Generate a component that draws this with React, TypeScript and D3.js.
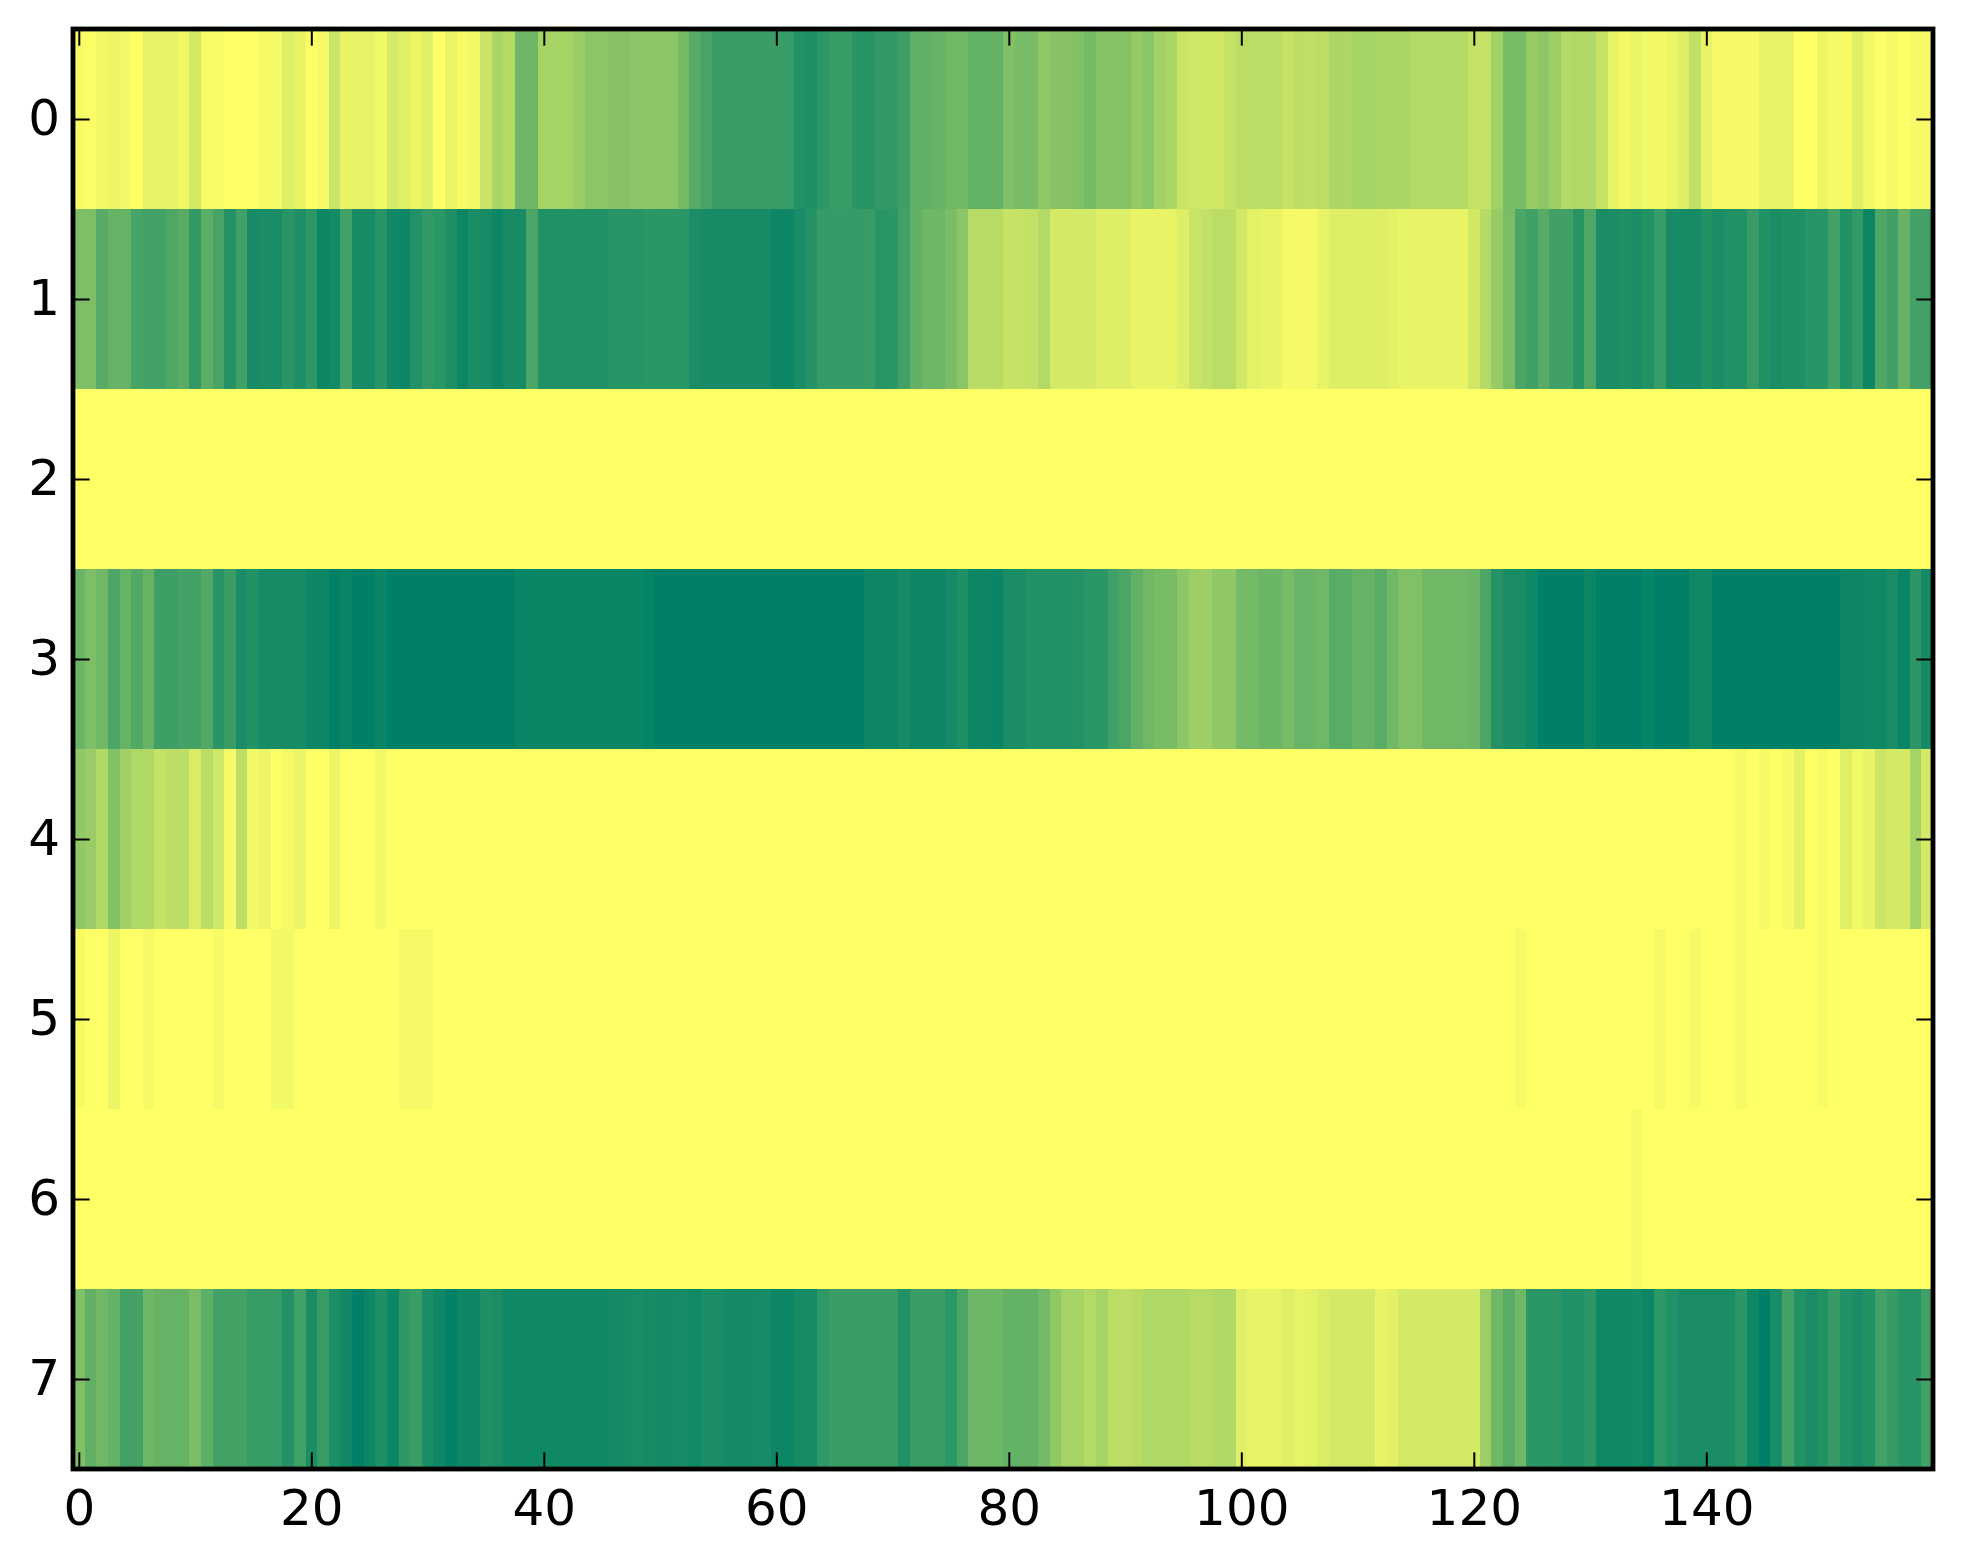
import * as React from "react";
import { useEffect, useRef } from "react";
import { axisBottom, axisLeft, axisRight, axisTop, scaleLinear, select } from "d3";

// heat values, 0 = pale yellow end of the map, 100 = dark green end
const row0 = [
  3, 1, 5, 8, 5, 0, 9, 9, 9, 6,
  17, 3, 3, 0, 0, 0, 4, 4, 13, 9,
  1, 4, 21, 9, 9, 9, 5, 16, 12, 8,
  12, 0, 8, 3, 5, 21, 33, 29, 57, 57,
  35, 35, 35, 40, 45, 45, 47, 47, 45, 45,
  46, 46, 54, 66, 72, 77, 77, 77, 77, 77,
  77, 78, 87, 88, 83, 78, 78, 84, 84, 80,
  80, 76, 62, 62, 60, 56, 56, 61, 61, 61,
  50, 53, 53, 44, 47, 47, 50, 54, 48, 48,
  48, 42, 46, 36, 33, 21, 19, 18, 18, 23,
  27, 27, 27, 27, 22, 26, 25, 27, 33, 32,
  35, 35, 33, 33, 33, 30, 30, 30, 30, 30,
  23, 23, 37, 53, 53, 41, 45, 38, 30, 31,
  31, 22, 9, 5, 8, 5, 5, 8, 13, 25,
  9, 4, 4, 4, 4, 9, 9, 9, 0, 0,
  8, 4, 4, 12, 5, 1, 4, 1, 4, 4,
];
const row1 = [
  51, 51, 66, 60, 60, 72, 74, 74, 69, 65,
  80, 64, 72, 86, 75, 91, 90, 90, 84, 88,
  82, 95, 92, 74, 91, 91, 84, 93, 95, 87,
  80, 83, 88, 95, 90, 91, 95, 91, 91, 71,
  87, 87, 87, 87, 87, 87, 84, 84, 84, 83,
  83, 83, 83, 90, 91, 91, 91, 91, 91, 91,
  95, 95, 90, 85, 79, 79, 79, 79, 78, 84,
  83, 75, 62, 57, 57, 52, 46, 28, 28, 28,
  22, 22, 24, 30, 17, 17, 17, 17, 13, 13,
  13, 9, 9, 9, 9, 13, 21, 24, 27, 27,
  18, 11, 9, 9, 4, 4, 4, 9, 13, 13,
  13, 13, 13, 11, 9, 9, 9, 9, 9, 9,
  18, 29, 41, 52, 71, 75, 66, 75, 75, 84,
  69, 90, 90, 88, 90, 87, 78, 91, 91, 91,
  87, 90, 87, 87, 79, 87, 90, 88, 88, 84,
  84, 74, 87, 80, 95, 69, 75, 60, 74, 74,
];
const row2 = [
  0, 0, 0, 0, 0, 0, 0, 0, 0, 0, 0, 0, 0, 0, 0, 0, 0, 0, 0, 0,
  0, 0, 0, 0, 0, 0, 0, 0, 0, 0, 0, 0, 0, 0, 0, 0, 0, 0, 0, 0,
  0, 0, 0, 0, 0, 0, 0, 0, 0, 0, 0, 0, 0, 0, 0, 0, 0, 0, 0, 0,
  0, 0, 0, 0, 0, 0, 0, 0, 0, 0, 0, 0, 0, 0, 0, 0, 0, 0, 0, 0,
  0, 0, 0, 0, 0, 0, 0, 0, 0, 0, 0, 0, 0, 0, 0, 0, 0, 0, 0, 0,
  0, 0, 0, 0, 0, 0, 0, 0, 0, 0, 0, 0, 0, 0, 0, 0, 0, 0, 0, 0,
  0, 0, 0, 0, 0, 0, 0, 0, 0, 0, 0, 0, 0, 0, 0, 0, 0, 0, 0, 0,
  0, 0, 0, 0, 0, 0, 0, 0, 0, 0, 0, 0, 0, 0, 0, 0, 0, 0, 0, 0,
];
const row3 = [
  58, 51, 56, 70, 60, 68, 60, 76, 76, 73,
  73, 68, 84, 77, 90, 87, 91, 91, 91, 91,
  95, 95, 100, 97, 100, 100, 96, 100, 100, 100,
  100, 100, 100, 100, 100, 100, 100, 100, 96, 96,
  96, 96, 96, 96, 96, 96, 96, 96, 96, 98,
  100, 100, 100, 100, 100, 100, 100, 100, 100, 100,
  100, 100, 100, 100, 100, 100, 100, 100, 95, 95,
  95, 91, 95, 95, 95, 92, 88, 95, 95, 96,
  90, 89, 87, 87, 87, 87, 86, 83, 83, 75,
  71, 62, 56, 53, 53, 45, 39, 38, 43, 43,
  54, 55, 58, 58, 53, 59, 58, 56, 65, 65,
  60, 60, 65, 56, 50, 50, 56, 56, 56, 56,
  58, 70, 86, 90, 90, 94, 100, 100, 100, 100,
  95, 100, 100, 100, 100, 97, 100, 100, 100, 94,
  94, 100, 100, 100, 100, 100, 100, 100, 100, 100,
  100, 100, 95, 95, 94, 94, 90, 97, 83, 92,
];
const row4 = [
  43, 40, 31, 49, 37, 31, 31, 23, 26, 26,
  15, 27, 19, 4, 26, 5, 8, 0, 4, 8,
  0, 0, 8, 0, 0, 0, 5, 0, 0, 0,
  0, 0, 0, 0, 0, 0, 0, 0, 0, 0,
  0, 0, 0, 0, 0, 0, 0, 0, 0, 0,
  0, 0, 0, 0, 0, 0, 0, 0, 0, 0,
  0, 0, 0, 0, 0, 0, 0, 0, 0, 0,
  0, 0, 0, 0, 0, 0, 0, 0, 0, 0,
  0, 0, 0, 0, 0, 0, 0, 0, 0, 0,
  0, 0, 0, 0, 0, 0, 0, 0, 0, 0,
  0, 0, 0, 0, 0, 0, 0, 0, 0, 0,
  0, 0, 0, 0, 0, 0, 0, 0, 0, 0,
  0, 0, 0, 0, 0, 0, 0, 0, 0, 0,
  0, 0, 0, 0, 0, 0, 0, 0, 0, 0,
  0, 0, 0, 4, 0, 4, 0, 4, 11, 0,
  3, 0, 12, 5, 9, 20, 17, 17, 35, 17,
];
const row5 = [
  3, 0, 0, 8, 0, 0, 4, 0, 0, 0,
  0, 0, 4, 0, 0, 0, 0, 5, 5, 0,
  0, 0, 0, 0, 0, 0, 0, 0, 4, 4,
  4, 0, 0, 0, 0, 0, 0, 0, 0, 0,
  0, 0, 0, 0, 0, 0, 0, 0, 0, 0,
  0, 0, 0, 0, 0, 0, 0, 0, 0, 0,
  0, 0, 0, 0, 0, 0, 0, 0, 0, 0,
  0, 0, 0, 0, 0, 0, 0, 0, 0, 0,
  0, 0, 0, 0, 0, 0, 0, 0, 0, 0,
  0, 0, 0, 0, 0, 0, 0, 0, 0, 0,
  0, 0, 0, 0, 0, 0, 0, 0, 0, 0,
  0, 0, 0, 0, 0, 0, 0, 0, 0, 0,
  0, 0, 0, 0, 4, 0, 0, 0, 0, 0,
  0, 0, 0, 0, 0, 0, 4, 0, 0, 4,
  0, 0, 0, 4, 0, 0, 0, 0, 0, 0,
  3, 0, 0, 0, 0, 0, 0, 0, 0, 0,
];
const row6 = [
  0, 0, 0, 0, 0, 0, 0, 0, 0, 0, 0, 0, 0, 0, 0, 0, 0, 0, 0, 0,
  0, 0, 0, 0, 0, 0, 0, 0, 0, 0, 0, 0, 0, 0, 0, 0, 0, 0, 0, 0,
  0, 0, 0, 0, 0, 0, 0, 0, 0, 0, 0, 0, 0, 0, 0, 0, 0, 0, 0, 0,
  0, 0, 0, 0, 0, 0, 0, 0, 0, 0, 0, 0, 0, 0, 0, 0, 0, 0, 0, 0,
  0, 0, 0, 0, 0, 0, 0, 0, 0, 0, 0, 0, 0, 0, 0, 0, 0, 0, 0, 0,
  0, 0, 0, 0, 0, 0, 0, 0, 0, 0, 0, 0, 0, 0, 0, 0, 0, 0, 0, 0,
  0, 0, 0, 0, 0, 0, 0, 0, 0, 0, 0, 0, 0, 0, 4, 0, 0, 0, 0, 0,
  0, 0, 0, 0, 0, 0, 0, 0, 0, 0, 0, 0, 0, 0, 0, 0, 0, 0, 0, 0,
];
const row7 = [
  50, 62, 56, 61, 73, 73, 57, 60, 60, 60,
  52, 63, 73, 73, 73, 78, 78, 78, 86, 74,
  90, 78, 89, 93, 100, 95, 88, 95, 81, 77,
  89, 94, 99, 95, 95, 88, 90, 94, 94, 94,
  94, 94, 94, 94, 94, 94, 92, 92, 90, 91,
  92, 92, 91, 93, 89, 89, 92, 92, 92, 91,
  95, 95, 91, 91, 81, 77, 77, 77, 77, 77,
  77, 87, 77, 77, 77, 83, 71, 57, 57, 57,
  61, 61, 61, 54, 43, 35, 35, 30, 35, 27,
  26, 28, 31, 31, 31, 31, 28, 28, 31, 31,
  12, 9, 9, 9, 13, 9, 11, 14, 17, 17,
  17, 17, 9, 11, 17, 17, 17, 17, 17, 17,
  17, 39, 56, 65, 56, 83, 83, 83, 87, 87,
  83, 94, 94, 94, 92, 95, 82, 87, 90, 90,
  90, 90, 90, 83, 94, 100, 90, 73, 87, 90,
  87, 79, 87, 90, 87, 74, 79, 84, 84, 74,
];

const rows = [row0, row1, row2, row3, row4, row5, row6, row7];
const xTicks = [0, 20, 40, 60, 80, 100, 120, 140];
const yTicks = [0, 1, 2, 3, 4, 5, 6, 7];

const width = 1963;
const height = 1564;
const margin = { top: 29, right: 30, bottom: 95, left: 73 };
const tickLength = 16.67;

function Axes(props) {
  const { scaleX, scaleY } = props;
  const ref = useRef<SVGGElement>(null);

  useEffect(() => {
    if (!ref.current) return;
    const root = select(ref.current);
    root.selectAll("*").remove();

    const [left, right] = scaleX.range();
    const [top, bottom] = scaleY.range();

    root
      .append("g")
      .attr("transform", `translate(0, ${bottom})`)
      .call(
        axisBottom(scaleX).tickValues(xTicks).tickSizeInner(-tickLength).tickSizeOuter(0).tickPadding(20.5)
      );
    root
      .append("g")
      .attr("transform", `translate(0, ${top})`)
      .call(
        axisTop(scaleX).tickValues(xTicks).tickSizeInner(-tickLength).tickSizeOuter(0).tickFormat(() => "")
      );
    const yAxis = root
      .append("g")
      .attr("transform", `translate(${left}, 0)`)
      .call(
        axisLeft(scaleY).tickValues(yTicks).tickSizeInner(-tickLength).tickSizeOuter(0).tickPadding(13)
      );
    root
      .append("g")
      .attr("transform", `translate(${right}, 0)`)
      .call(
        axisRight(scaleY).tickValues(yTicks).tickSizeInner(-tickLength).tickSizeOuter(0).tickFormat(() => "")
      );

    root.selectAll(".domain").remove();
    root.selectAll(".tick line").attr("stroke", "#000").attr("stroke-width", 2);
    root
      .selectAll(".tick text")
      .attr("fill", "#000")
      .attr("font-family", "'DejaVu Sans'")
      .attr("font-size", 50);
    yAxis.selectAll(".tick text").attr("dy", "0.30em");
  }, [scaleX, scaleY]);

  return <g ref={ref} />;
}

export default function App() {
  const scaleX = scaleLinear()
    .domain([-0.5, 159.5])
    .range([margin.left, width - margin.right]);
  const scaleY = scaleLinear()
    .domain([-0.5, 7.5])
    .range([margin.top, height - margin.bottom]);
  const color = scaleLinear<string>().domain([0, 100]).range(["#ffff66", "#008066"]);

  return (
    <svg
      width={width}
      height={height}
      style={{ position: "absolute", left: 0, top: 0, background: "#fff" }}
    >
      <g shapeRendering="crispEdges">
        {rows.map((values, r) =>
          values.map((value, c) => (
            <rect
              key={`cell-${r}-${c}`}
              x={scaleX(c - 0.5)}
              y={scaleY(r - 0.5)}
              width={scaleX(c + 0.5) - scaleX(c - 0.5)}
              height={scaleY(r + 0.5) - scaleY(r - 0.5)}
              fill={color(value)}
            />
          ))
        )}
      </g>
      <Axes scaleX={scaleX} scaleY={scaleY} />
      <rect
        x={scaleX(-0.5)}
        y={scaleY(-0.5)}
        width={scaleX(159.5) - scaleX(-0.5)}
        height={scaleY(7.5) - scaleY(-0.5)}
        fill="none"
        stroke="#000"
        strokeWidth={4.8}
      />
    </svg>
  );
}
